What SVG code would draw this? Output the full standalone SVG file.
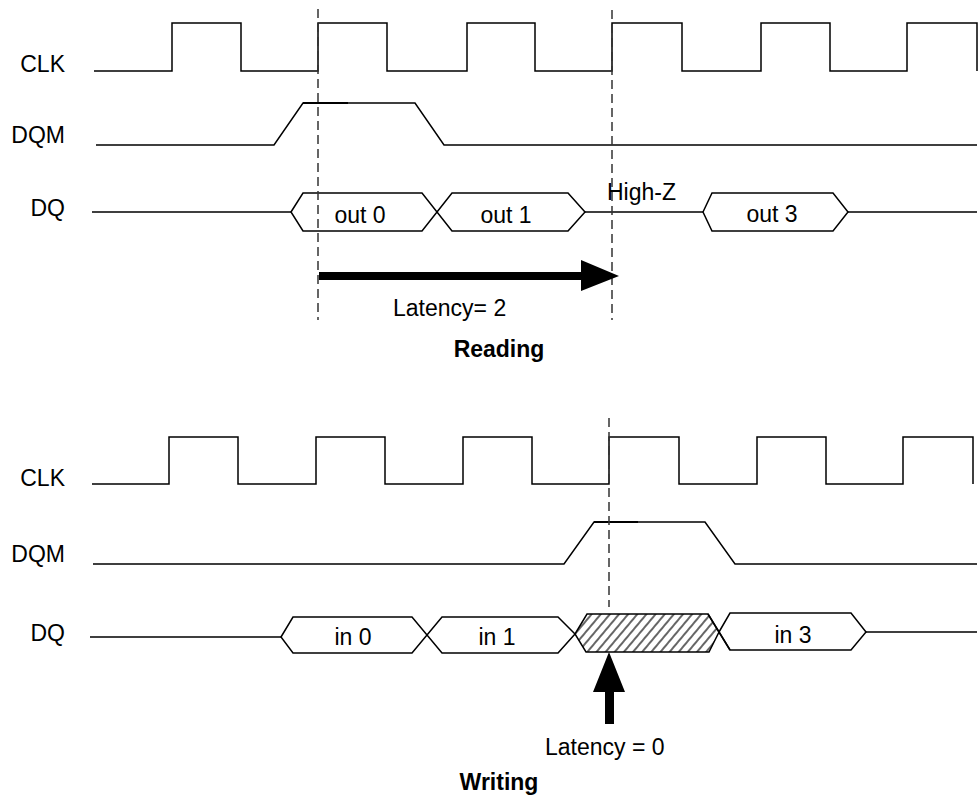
<svg xmlns="http://www.w3.org/2000/svg" width="978" height="798" viewBox="0 0 978 798">
<defs>
<style>
.w{fill:none;stroke:#000;stroke-width:1.5;stroke-linejoin:miter}
.bus{fill:#fff;stroke:#000;stroke-width:1.5}
.hz{stroke:#000;stroke-width:2.2}
.dash{fill:none;stroke:#333;stroke-width:1.5;stroke-dasharray:9 5}
.t{font-family:"Liberation Sans",Arial,sans-serif;font-size:23px;fill:#000}
.lbl{text-anchor:end}
.c{text-anchor:middle}
.b{font-weight:bold}
.arr{fill:#000;stroke:none}
</style>
<pattern id="hatch" width="7" height="7" patternUnits="userSpaceOnUse" patternTransform="rotate(40)">
<line x1="1" y1="0" x2="1" y2="7" stroke="#000" stroke-width="1.2"/>
</pattern>
</defs>
<rect width="978" height="798" fill="#fff"/>

<g id="reading">
<g id="clk-read">
<text class="t lbl" x="65" y="72">CLK</text>
<path class="w" d="M94,71 H172 V23 H241 V71 H318 V23 H387 V71 H467 V23 H535 V71 H612 V23 H682 V71 H761 V23 H830 V71 H907 V23 H977 V71"/>
</g>
<g id="dqm-read">
<text class="t lbl" x="65" y="143">DQM</text>
<path class="w" d="M96,145 H274 L303,103 H415 L444,145 H977"/>
<path class="hz" d="M303,103 H348"/>
</g>
<g id="dq-read">
<text class="t lbl" x="65" y="216">DQ</text>
<path class="w" d="M92,212 H291 M585,212 H703 M848,212 H977"/>
<polygon class="bus" points="291,212 303,193 422,193 437,212 422,231 303,231"/>
<polygon class="bus" points="437,212 452,193 568,193 585,212 568,231 452,231"/>
<polygon class="bus" points="703,212 712,193 833,193 848,212 833,231 712,231"/>
<text class="t c" x="360" y="223">out 0</text>
<text class="t c" x="506" y="223">out 1</text>
<text class="t c" x="772" y="222">out 3</text>
<text class="t" x="607" y="200">High-Z</text>
</g>
<text id="title-read" class="t b c" x="499" y="357">Reading</text>
</g>

<g id="writing">
<g id="clk-write">
<text class="t lbl" x="65" y="486">CLK</text>
<path class="w" d="M92,484 H169 V437 H238 V484 H316 V437 H385 V484 H463 V437 H532 V484 H609 V437 H679 V484 H757 V437 H826 V484 H903 V437 H973 V484"/>
</g>
<g id="dqm-write">
<text class="t lbl" x="65" y="562">DQM</text>
<path class="w" d="M93,564 H564 L594,522 H705 L735,564 H977"/>
<path class="hz" d="M594,522 H638"/>
</g>
<g id="dq-write">
<text class="t lbl" x="65" y="641">DQ</text>
<path class="w" d="M90,637 H281 M866,632 H977"/>
<polygon class="bus" points="281,637 293,617 412,617 427,635 412,653 293,653"/>
<polygon class="bus" points="427,635 442,617 558,617 575,634 558,653 442,653"/>
<polygon points="575,634 587,614 708,614 719,632 709,652 586,652" fill="url(#hatch)" stroke="#000" stroke-width="1.5"/>
<polygon class="bus" points="719,632 730,613 851,613 866,632 851,650 730,650"/>
<path class="w" d="M708,614 L730,650"/>
<text class="t c" x="353" y="645">in 0</text>
<text class="t c" x="497" y="645">in 1</text>
<text class="t c" x="793" y="643">in 3</text>
</g>
<text id="title-write" class="t b c" x="499" y="790">Writing</text>
</g>

<g id="connectors">
<line class="dash" x1="318" y1="9" x2="318" y2="320"/>
<line class="dash" x1="612" y1="10" x2="612" y2="320"/>
<line class="dash" x1="609" y1="418" x2="609" y2="607"/>
<polygon class="arr" points="319,272 581,272 581,260 619,276 581,291 581,280 319,280"/>
<text class="t" x="393" y="316">Latency= 2</text>
<polygon class="arr" points="609,652 625,692 614,692 614,724 605,724 605,692 593,692"/>
<text class="t" x="545" y="755">Latency = 0</text>
</g>
</svg>
